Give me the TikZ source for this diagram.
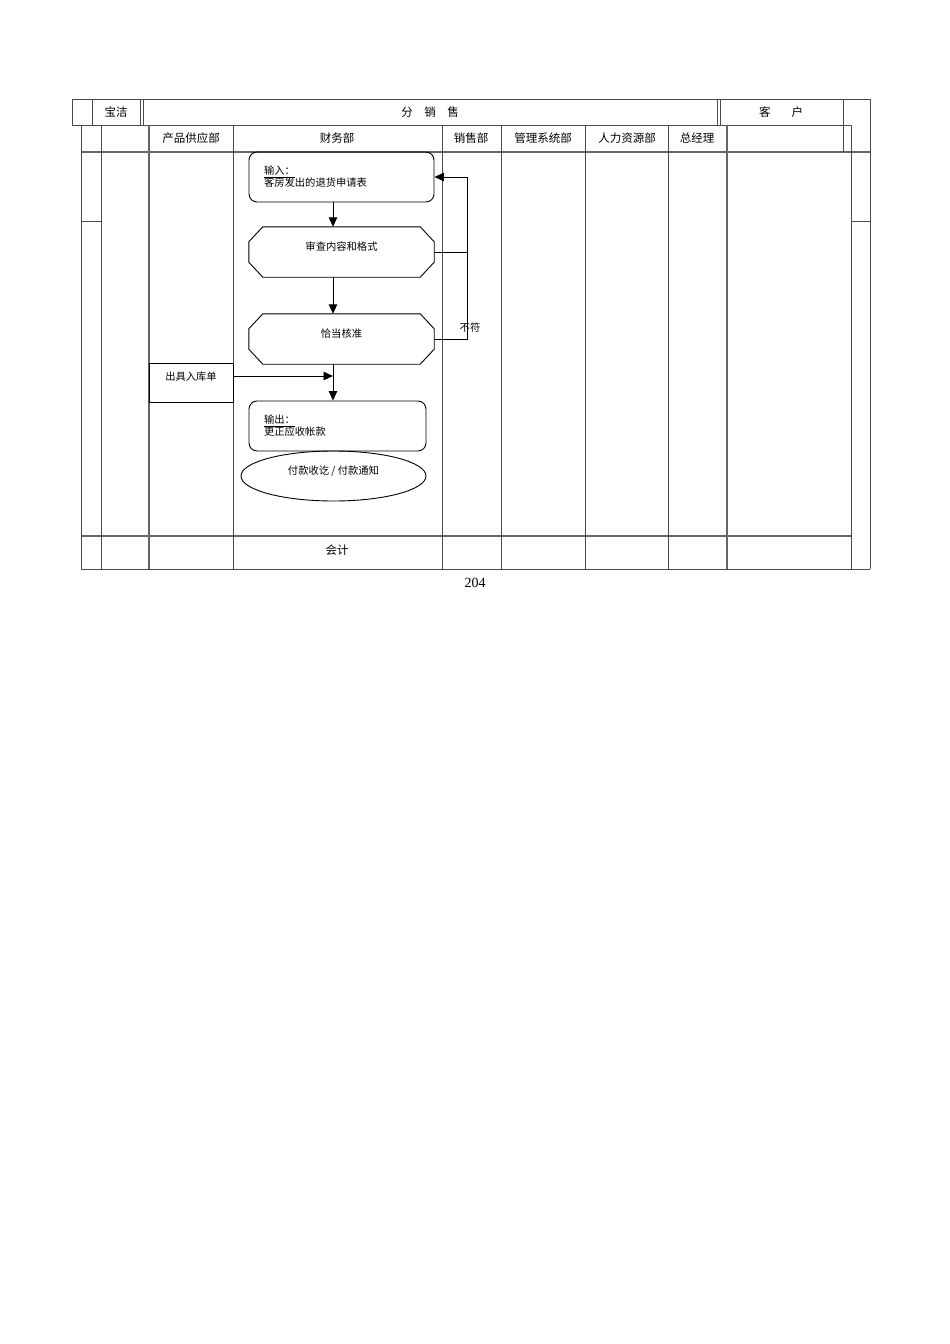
\documentclass[tikz,border=0pt]{standalone}
\usepackage{fontspec}
\setmainfont{Liberation Serif}
\newfontfamily\cjk{Noto Sans CJK SC}
\usetikzlibrary{arrows.meta,shapes.geometric}

\tikzset{
  tabline/.style={line width=0.9pt, black!70},
  dbl/.style={line width=1.7pt, black!60},
  flow/.style={line width=0.9pt, black},
  head/.style={font=\cjk\fontsize{11.5}{13}\selectfont},
  boxtxt/.style={font=\cjk\fontsize{10.3}{12}\selectfont},
  proc/.style={boxtxt, flow, draw, rounded corners=8pt, align=left,
    inner xsep=15pt, minimum height=50pt},
  chk/.style={boxtxt, minimum width=185pt, minimum height=50pt, inner sep=0pt,
    text height=9pt, text depth=13pt},
  slipbox/.style={boxtxt, flow, draw, minimum width=84pt, minimum height=39pt,
    inner sep=0pt, text height=9pt, text depth=13pt},
  arr/.style={flow, -{Triangle[length=9.5pt,width=8.5pt]}}
}

% octagon-like box round a node
\newcommand\chamferbox[1]{%
  \draw[flow] ([xshift=14pt]#1.north west) -- ([xshift=-14pt]#1.north east)
    -- ([yshift=-15pt]#1.north east) -- ([yshift=15pt]#1.south east)
    -- ([xshift=-14pt]#1.south east) -- ([xshift=14pt]#1.south west)
    -- ([yshift=15pt]#1.south west) -- ([yshift=-15pt]#1.north west) -- cycle;}

\begin{document}
\begin{tikzpicture}[x=1pt,y=-1pt]
    \useasboundingbox (0,0) rectangle (950,1344);

    % Table frame
    \draw[tabline] (72,99) -- (870,99);
    \draw[tabline] (72,125) -- (851,125);
    \draw[dbl] (81,152) -- (870,152);
    \draw[dbl] (81,536) -- (851,536);
    \draw[tabline] (81,569) -- (870,569);
    \draw[tabline] (81,221) -- (101,221);
    \draw[tabline] (851,221) -- (870,221);
    \foreach \x in {72,92,140,143,717,720}
        \draw[tabline] (\x,99) -- (\x,125);
    \draw[tabline] (843,99) -- (843,152);
    \draw[tabline] (870,99) -- (870,569);
    \foreach \x in {81,101,233,442,501,585,668,851}
        \draw[tabline] (\x,125) -- (\x,569);
    \foreach \x in {149,727}
        \draw[dbl] (\x,125) -- (\x,569);

    % Headers
    \node[head] (pg) at (116,112) {宝洁};
    \node[head] (fx) at (430,112) {分\quad 销\quad 售};
    \node[head] (kh) at (781,112) {客\hspace{21pt}户};
    \node[head] (cp) at (191,138) {产品供应部};
    \node[head] (cw) at (337,138) {财务部};
    \node[head] (xs) at (471,138) {销售部};
    \node[head] (gl) at (543,138) {管理系统部};
    \node[head] (rl) at (627,138) {人力资源部};
    \node[head] (zj) at (697,138) {总经理};
    \node[head] (kj) at (337,550) {会计};
    \node[font=\fontsize{14}{16}\selectfont] (pn) at (475,583) {204};

    % Flow boxes
    \node[proc, text width=155pt] (in) at (341.5,177)
        {\underline{输入：}\\客房发出的退货申请表};
    \node[chk] (chk) at (341.5,252) {审查内容和格式};
    \chamferbox{chk}
    \node[chk] (ok) at (341.5,339) {恰当核准};
    \chamferbox{ok}
    \node[slipbox] (slip) at (191,382.5) {出具入库单\hspace{8pt}};
    \node[proc, text width=147pt] (out) at (337.5,426)
        {\underline{输出：}\\更正应收帐款};
    \node[ellipse, flow, draw, boxtxt, minimum width=185pt, minimum height=50pt,
        inner sep=0pt, text height=9pt, text depth=13pt] (pay) at (333.5,476)
        {付款收讫 / 付款通知};
    \node[boxtxt] (nf) at (470,328) {不符};

    % Connectors
    \coordinate (ax) at (333,0);
    \coordinate (fb) at (467,0);
    \draw[arr] (in.south -| ax) -- (chk.north -| ax);
    \draw[arr] (chk.south -| ax) -- (ok.north -| ax);
    \draw[arr] (ok.south -| ax) -- (out.north -| ax);
    \draw[arr] ([yshift=6.5pt]slip.east) -- ([yshift=6.5pt]slip.east -| ax);
    \draw[flow] (chk.east) -- (chk.east -| fb);
    \draw[arr] (ok.east) -- (ok.east -| fb) -- (in.east -| fb) -- (in.east);
\end{tikzpicture}
\end{document}
